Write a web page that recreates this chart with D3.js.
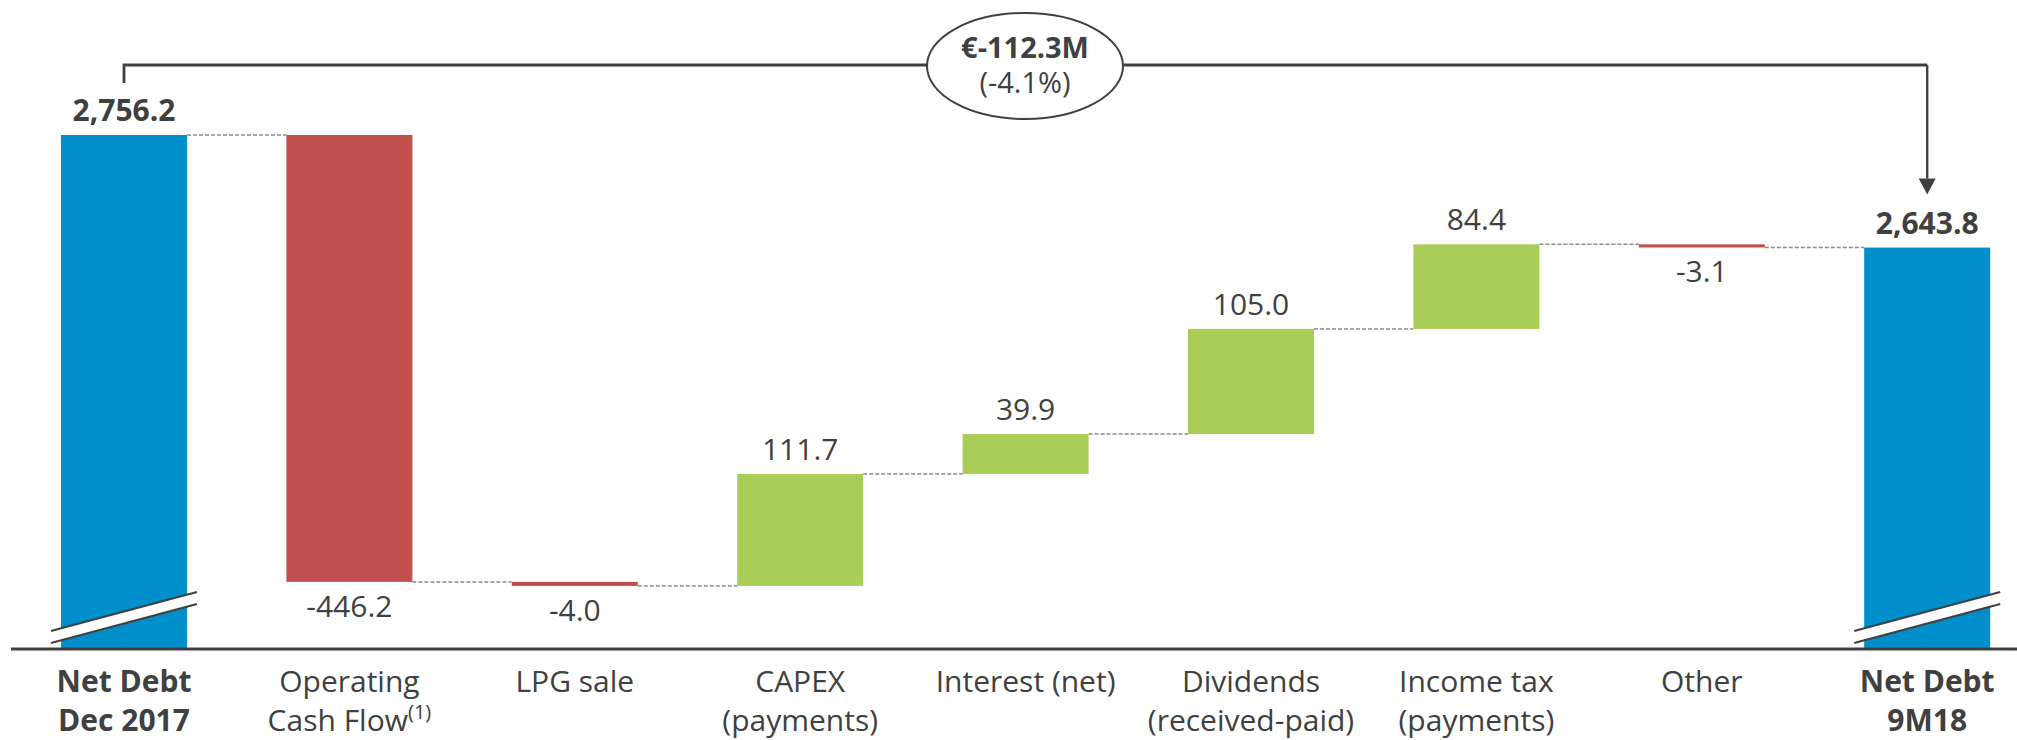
<!DOCTYPE html>
<html>
<head>
<meta charset="utf-8">
<script src="https://cdn.jsdelivr.net/npm/d3@7"></script>
<style>
  html, body { margin: 0; padding: 0; background: #ffffff; }
  svg { display: block; }
  text { font-family: "Open Sans", "Noto Sans", sans-serif; fill: #404040; }
</style>
</head>
<body>
<svg id="chart" width="2017" height="740"></svg>
<script>
// ---------- data ----------
const categories = [
  ["Net Debt", "Dec 2017"],
  ["Operating", "Cash Flow"],
  ["LPG sale"],
  ["CAPEX", "(payments)"],
  ["Interest (net)"],
  ["Dividends", "(received-paid)"],
  ["Income tax", "(payments)"],
  ["Other"],
  ["Net Debt", "9M18"]
];
const kinds  = ["total", "delta", "delta", "delta", "delta", "delta", "delta", "delta", "total"];
const values = [2756.2, -446.2, -4.0, 111.7, 39.9, 105.0, 84.4, -3.1, 2643.8];
const superscripts = [null, "(1)", null, null, null, null, null, null, null];
const changeLabel  = "€-112.3M";
const changePct    = "(-4.1%)";
const yDomain = [2243, 2756.2]; // visible (broken) range of the value axis

const colors = { total: "#008FCA", up: "#A9CD57", down: "#C0504D", text: "#404040", dash: "#8c8c8c" };

// ---------- layout ----------
const W = 2017, H = 740;
const axisY = 649;
const svg = d3.select("#chart");

const x = d3.scaleBand()
  .domain(d3.range(categories.length))
  .range([11.3, 2039.9])
  .paddingInner(0.441)
  .paddingOuter(0.2205);
const y = d3.scaleLinear().domain(yDomain).range([axisY, 135]);
const bw = x.bandwidth();

// compute waterfall segments
let running = 0;
const bars = values.map((v, i) => {
  let start, end;
  if (kinds[i] === "total") { start = yDomain[0]; end = v; running = v; }
  else { start = running; end = running + v; running = end; }
  return { i, v, kind: kinds[i], start, end, after: kinds[i] === "total" ? v : end };
});

// ---------- connectors ----------
svg.append("g").selectAll("line")
  .data(bars.slice(0, -1))
  .join("line")
  .attr("x1", d => x(d.i) + bw)
  .attr("x2", d => x(d.i + 1))
  .attr("y1", d => y(d.after))
  .attr("y2", d => y(d.after))
  .attr("stroke", colors.dash)
  .attr("stroke-width", 1.5)
  .attr("stroke-dasharray", "4,2");

// ---------- bars ----------
svg.append("g").selectAll("rect")
  .data(bars)
  .join("rect")
  .attr("x", d => x(d.i))
  .attr("width", bw)
  .attr("y", d => y(Math.max(d.start, d.end)))
  .attr("height", d => Math.abs(y(d.start) - y(d.end)))
  .attr("fill", d => d.kind === "total" ? colors.total : (d.v >= 0 ? colors.up : colors.down));

// ---------- break marks on total bars ----------
const brk = svg.append("g");
bars.filter(d => d.kind === "total").forEach(d => {
  const cx = x(d.i) + bw / 2;
  const x0 = cx - 73, x1 = cx + 73;
  brk.append("polygon")
    .attr("points", `${x0},${axisY - 18} ${x1},${axisY - 57} ${x1},${axisY - 45} ${x0},${axisY - 6}`)
    .attr("fill", "#ffffff");
  [[axisY - 18, axisY - 57], [axisY - 6, axisY - 45]].forEach(([ya, yb]) => {
    brk.append("line")
      .attr("x1", x0).attr("y1", ya).attr("x2", x1).attr("y2", yb)
      .attr("stroke", colors.text).attr("stroke-width", 2.2);
  });
});

// ---------- axis baseline ----------
svg.append("line")
  .attr("x1", 11).attr("x2", W)
  .attr("y1", axisY).attr("y2", axisY)
  .attr("stroke", colors.text).attr("stroke-width", 3);

// ---------- value labels ----------
const fmtTotal = d3.format(",.1f");
const fmtDelta = d3.format(".1f");
const hyph = s => s.replace("\u2212", "-");
svg.append("g").selectAll("text")
  .data(bars)
  .join("text")
  .attr("x", d => x(d.i) + bw / 2)
  .attr("y", d => {
    if (d.kind === "total" || d.v >= 0) return y(Math.max(d.start, d.end)) - 14;
    return y(Math.min(d.start, d.end)) + 35;
  })
  .attr("text-anchor", "middle")
  .attr("font-size", 30)
  .attr("font-weight", d => d.kind === "total" ? 700 : 400)
  .text(d => hyph(d.kind === "total" ? fmtTotal(d.v) : fmtDelta(d.v)));

// ---------- category labels ----------
const catG = svg.append("g");
categories.forEach((lines, i) => {
  const t = catG.append("text")
    .attr("x", x(i) + bw / 2)
    .attr("y", 692)
    .attr("text-anchor", "middle")
    .attr("font-size", 30)
    .attr("font-weight", kinds[i] === "total" ? 700 : 400);
  lines.forEach((ln, j) => {
    t.append("tspan")
      .attr("x", x(i) + bw / 2)
      .attr("dy", j === 0 ? 0 : 39)
      .text(ln);
    if (j === lines.length - 1 && superscripts[i]) {
      t.append("tspan")
        .attr("font-size", 20)
        .attr("dy", -12)
        .text(superscripts[i]);
    }
  });
});

// ---------- change annotation (bracket + ellipse) ----------
const leftX = x(0) + bw / 2, rightX = x(categories.length - 1) + bw / 2;
const bracketY = 65;
const ann = svg.append("g");
ann.append("path")
  .attr("d", `M${leftX},${y(values[0]) - 52} V${bracketY} H${rightX}`)
  .attr("fill", "none").attr("stroke", colors.text).attr("stroke-width", 2.8);
ann.append("line")
  .attr("x1", rightX).attr("x2", rightX)
  .attr("y1", bracketY).attr("y2", y(values[values.length - 1]) - 69)
  .attr("stroke", colors.text).attr("stroke-width", 2.4);
const tipY = y(values[values.length - 1]) - 53;
ann.append("path")
  .attr("d", `M${rightX - 8.5},${tipY - 16} L${rightX + 8.5},${tipY - 16} L${rightX},${tipY} Z`)
  .attr("fill", colors.text);

const ecx = 1025, ecy = 66;
ann.append("ellipse")
  .attr("cx", ecx).attr("cy", ecy).attr("rx", 98).attr("ry", 53)
  .attr("fill", "#ffffff").attr("stroke", colors.text).attr("stroke-width", 2);
ann.append("text")
  .attr("x", ecx).attr("y", 58)
  .attr("text-anchor", "middle").attr("font-size", 29).attr("font-weight", 700)
  .text(changeLabel);
ann.append("text")
  .attr("x", ecx).attr("y", 93)
  .attr("text-anchor", "middle").attr("font-size", 29)
  .text(changePct);
</script>
</body>
</html>
